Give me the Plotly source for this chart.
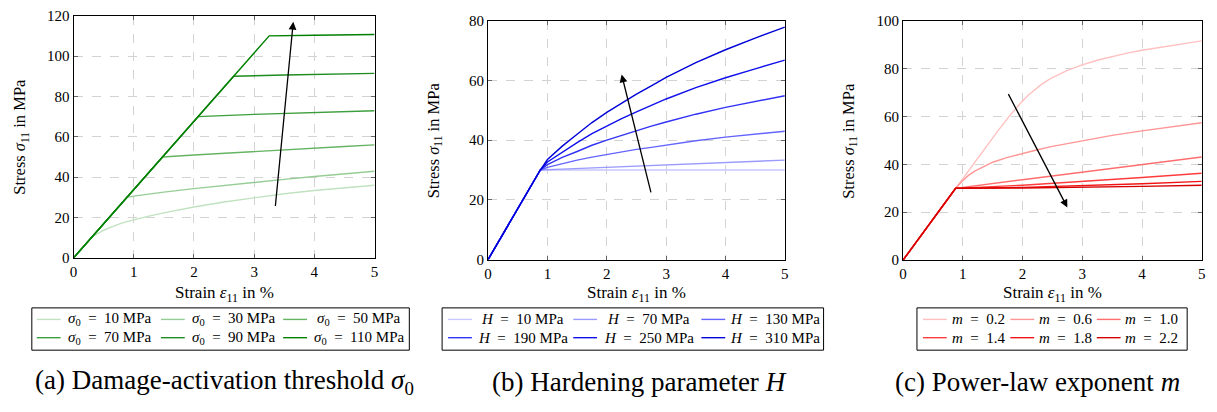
import plotly.graph_objects as go

W, H = 1217, 412

# ---------------- data ----------------
# (a) damage-activation threshold sigma_0
a_labels = ["10", "30", "50", "70", "90", "110"]
a_strain = [
    [0, 0.30, 0.35, 0.40, 0.50, 0.60, 0.70, 0.80, 0.90, 1.0, 1.25, 1.5, 1.75, 2.0, 2.5, 3.0, 3.5, 4.0, 4.5, 5.0],
    [0, 0.89, 1.0, 1.25, 1.5, 2.0, 2.5, 3.0, 3.5, 4.0, 4.5, 5.0],
    [0, 1.48, 2.0, 2.5, 3.0, 3.5, 4.0, 4.5, 5.0],
    [0, 2.07, 3.0, 4.0, 5.0],
    [0, 2.66, 3.5, 4.0, 5.0],
    [0, 3.25, 4.0, 5.0],
]
a_stress = [
    [0, 10.1, 11.2, 12.1, 13.7, 15.0, 16.2, 17.2, 18.1, 18.9, 20.7, 22.3, 23.8, 25.2, 27.7, 29.9, 31.8, 33.4, 34.8, 36.0],
    [0, 30.0, 30.6, 31.7, 32.6, 34.3, 35.9, 37.4, 38.9, 40.3, 41.7, 42.9],
    [0, 50.0, 51.0, 51.9, 52.8, 53.6, 54.4, 55.2, 56.0],
    [0, 70.0, 71.1, 72.1, 72.9],
    [0, 90.0, 90.6, 90.9, 91.4],
    [0, 110.0, 110.3, 110.7],
]

# (b) hardening parameter H
b_labels = ["10", "70", "130", "190", "250", "310"]
b_grid = [0, 0.88, 1.0, 1.25, 1.5, 1.75, 2.0, 2.25, 2.5, 2.75, 3.0, 3.5, 4.0, 4.5, 5.0]
b_strain = [
    [0, 0.88, 2.0, 3.0, 4.0, 5.0],
    [0, 0.88, 1.25, 1.5, 2.0, 2.5, 3.0, 3.5, 4.0, 4.5, 5.0],
    b_grid, b_grid, b_grid, b_grid,
]
b_stress = [
    [0, 30.0, 30.0, 30.0, 30.0, 30.0],
    [0, 30.0, 30.3, 30.5, 30.9, 31.4, 31.9, 32.3, 32.6, 33.0, 33.3],
    [0, 30.0, 30.9, 32.2, 33.3, 34.3, 35.2, 36.1, 36.9, 37.6, 38.4, 39.8, 41.0, 42.0, 43.0],
    [0, 30.0, 31.8, 34.2, 36.2, 38.3, 40.0, 41.6, 43.2, 44.7, 46.1, 48.7, 51.0, 53.0, 54.9],
    [0, 30.0, 32.7, 36.1, 39.2, 42.2, 44.8, 47.2, 49.5, 51.7, 53.8, 57.6, 60.9, 63.9, 66.8],
    [0, 30.0, 33.5, 38.0, 42.0, 45.9, 49.3, 52.4, 55.4, 58.2, 61.0, 66.0, 70.3, 74.2, 77.9],
]

# (c) power-law exponent m
c_labels = ["0.2", "0.6", "1.0", "1.4", "1.8", "2.2"]
c_strain = [
    [0, 0.88, 1.0, 1.2, 1.4, 1.6, 1.8, 1.9, 2.0, 2.1, 2.2, 2.3, 2.4, 2.5, 2.75, 3.0, 3.25, 3.5, 3.75, 4.0, 4.5, 5.0],
    [0, 0.88, 1.0, 1.1, 1.2, 1.35, 1.5, 1.75, 2.0, 2.25, 2.5, 3.0, 3.5, 4.0, 4.5, 5.0],
    [0, 0.88, 2.0, 3.0, 4.0, 5.0],
    [0, 0.88, 2.0, 3.0, 4.0, 5.0],
    [0, 0.88, 2.0, 3.0, 4.0, 5.0],
    [0, 0.88, 2.0, 3.0, 4.0, 5.0],
]
c_stress = [
    [0, 30.0, 34.1, 41.0, 47.8, 54.4, 60.8, 63.8, 66.5, 69.0, 71.2, 73.1, 74.8, 76.3, 79.3, 81.6, 83.5, 85.1, 86.5, 87.7, 89.8, 91.6],
    [0, 30.0, 33.3, 35.5, 37.2, 39.2, 40.9, 42.9, 44.6, 46.1, 47.5, 49.9, 52.1, 54.0, 55.8, 57.4],
    [0, 30.0, 33.6, 36.8, 40.0, 43.1],
    [0, 30.0, 31.3, 32.8, 34.5, 36.3],
    [0, 30.0, 30.4, 31.0, 31.9, 32.9],
    [0, 30.0, 30.15, 30.4, 30.8, 31.3],
]

# arrows (tail -> head) in data coordinates
a_arrow = [(3.35, 25), (3.65, 117)]
b_arrow = [(2.75, 22), (2.25, 62)]
c_arrow = [(1.75, 70), (2.75, 22)]

y_max = [120, 80, 100]

# ---------------- styling ----------------
FONT = "Liberation Serif, 'Times New Roman', Times, 'DejaVu Serif', serif"
greens = ["rgb(192,226,192)", "rgb(150,205,150)", "rgb(100,180,100)",
          "rgb(60,158,60)", "rgb(30,140,30)", "rgb(0,128,0)"]
blues = ["rgb(200,200,255)", "rgb(155,155,255)", "rgb(100,100,255)",
         "rgb(50,50,245)", "rgb(15,15,235)", "rgb(0,0,215)"]
reds = ["rgb(255,192,192)", "rgb(255,150,150)", "rgb(255,110,110)",
        "rgb(255,60,60)", "rgb(240,20,20)", "rgb(215,0,0)"]

# panel frames in pixels: (left, right, top, bottom)
frames = [(70, 373, 8, 260), (487.3, 786, 13.3, 261.7), (905, 1205.7, 13.3, 262.3)]


def px(x):
    return x / W


def py(y):
    return 1 - y / H


fig = go.Figure()

EQ = "\u2002=\u2002"
panels = [
    (a_strain, a_stress, a_labels, greens, a_arrow, "<i>σ</i><sub>0</sub>" + EQ + "{} MPa"),
    (b_strain, b_stress, b_labels, blues, b_arrow, "<i>H</i>" + EQ + "{} MPa"),
    (c_strain, c_stress, c_labels, reds, c_arrow, "<i>m</i>" + EQ + "{}"),
]

annotations = []
shapes = []

# legend layout per panel: box (x0, x1), line starts, text centres
leg_box = [(28, 408), (441, 825), (919, 1191)]
leg_line = [[33, 158, 281], [447, 573, 702], [925, 1013, 1100]]
leg_text = [[107, 232, 357], [522, 649, 776], [981, 1069, 1155]]
leg_rows = [324, 343]
captions = ["(a) Damage-activation threshold <i>σ</i><sub>0</sub>",
            "(b) Hardening parameter <i>H</i>",
            "(c) Power-law exponent <i>m</i>"]
cap_x = [222, 640, 1040]
ytitle_x = [16, 433, 851]

for i, (xs_all, ys_all, labels, cols, arrow, fmt) in enumerate(panels):
    xa = "x" if i == 0 else f"x{i+1}"
    ya = "y" if i == 0 else f"y{i+1}"
    for j, (xs, ys) in enumerate(zip(xs_all, ys_all)):
        fig.add_trace(go.Scatter(
            x=xs, y=ys, mode="lines", xaxis=xa, yaxis=ya,
            line=dict(color=cols[j], width=1.4),
            name=fmt.format(labels[j]), showlegend=False, hoverinfo="skip"))
    l, r, t, b = frames[i]
    ax_kw = dict(
        range=[0, 5], dtick=1, ticks="inside", ticklen=4, tickcolor="#666",
        showline=True, linecolor="black", linewidth=1, mirror="allticks",
        showgrid=True, gridcolor="#d3d3d3", griddash="dash", gridwidth=1,
        zeroline=False, tickfont=dict(family=FONT, size=15, color="black"),
        domain=[px(l), px(r)], anchor=ya, fixedrange=True)
    ay_kw = dict(
        range=[0, y_max[i]], dtick=20, ticks="inside", ticklen=4, tickcolor="#666",
        showline=True, linecolor="black", linewidth=1, mirror="allticks",
        showgrid=True, gridcolor="#d3d3d3", griddash="dash", gridwidth=1,
        zeroline=False, tickfont=dict(family=FONT, size=15, color="black"),
        domain=[py(b), py(t)], anchor=xa, fixedrange=True)
    fig.update_layout(**{("xaxis" if i == 0 else f"xaxis{i+1}"): ax_kw,
                         ("yaxis" if i == 0 else f"yaxis{i+1}"): ay_kw})

    # arrow
    (tx, ty), (hx, hy) = arrow
    annotations.append(dict(
        x=hx, y=hy, ax=tx, ay=ty, xref=xa, yref=ya, axref=xa, ayref=ya,
        showarrow=True, arrowhead=2, arrowsize=1.2, arrowwidth=1.3,
        arrowcolor="black", text="", standoff=0, startstandoff=0))

    # axis titles
    annotations.append(dict(
        x=px((l + r) / 2), y=py(298), xref="paper", yref="paper",
        text="Strain <i>ε</i><sub>11</sub> in %", showarrow=False,
        font=dict(family=FONT, size=17, color="black"),
        xanchor="center", yanchor="middle"))
    annotations.append(dict(
        x=px(ytitle_x[i]), y=py((t + b) / 2), xref="paper", yref="paper",
        text="Stress <i>σ</i><sub>11</sub> in MPa", showarrow=False, textangle=-90,
        font=dict(family=FONT, size=16.5, color="black"),
        xanchor="center", yanchor="middle"))

    # legend box
    bx0, bx1 = leg_box[i]
    shapes.append(dict(type="rect", xref="paper", yref="paper",
                       x0=px(bx0), x1=px(bx1), y0=py(356), y1=py(312),
                       line=dict(color="black", width=1), fillcolor="white"))
    for j in range(6):
        row, col = divmod(j, 3)
        yy = leg_rows[row]
        x0 = leg_line[i][col]
        shapes.append(dict(type="line", xref="paper", yref="paper",
                           x0=px(x0), x1=px(x0 + 24), y0=py(yy), y1=py(yy),
                           line=dict(color=cols[j], width=1.4)))
        annotations.append(dict(
            x=px(leg_text[i][col]), y=py(yy), xref="paper", yref="paper",
            text=fmt.format(labels[j]), showarrow=False,
            font=dict(family=FONT, size=15, color="black"),
            xanchor="center", yanchor="middle"))

    # caption
    annotations.append(dict(
        x=px(cap_x[i]), y=py(389), xref="paper", yref="paper",
        text=captions[i], showarrow=False,
        font=dict(family=FONT, size=27, color="black"),
        xanchor="center", yanchor="middle"))

fig.update_layout(
    width=W, height=H, margin=dict(l=0, r=0, t=0, b=0),
    paper_bgcolor="white", plot_bgcolor="white",
    showlegend=False, annotations=annotations, shapes=shapes,
    font=dict(family=FONT, color="black"))

fig.write_html("out.html")
